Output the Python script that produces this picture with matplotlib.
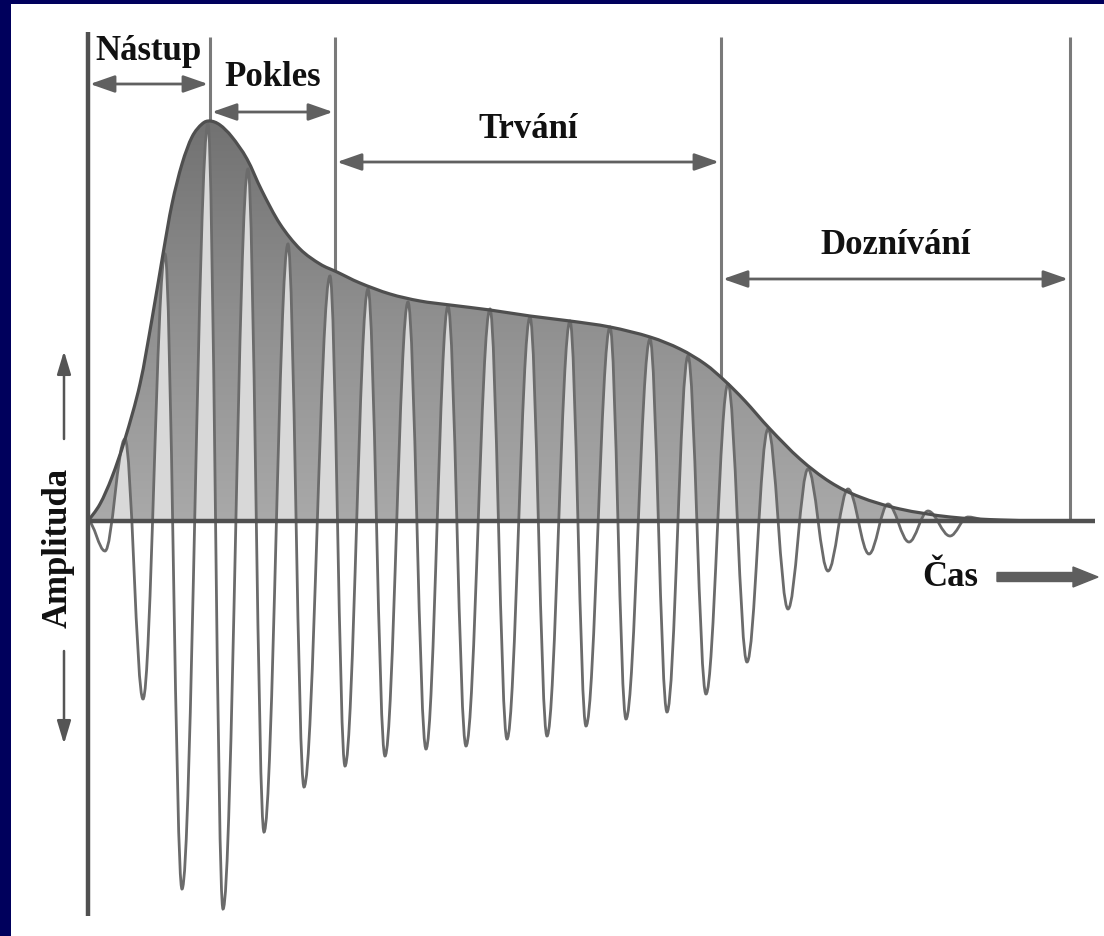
import numpy as np
import matplotlib
matplotlib.use("Agg")
import matplotlib.pyplot as plt
from matplotlib.path import Path
from matplotlib.patches import PathPatch
from matplotlib.colors import LinearSegmentedColormap

# ---------------- data (time in px from image, amplitude = 522 - y_px) -------------
BASE = 522
# oscillation extrema: time position and signed amplitude
wave_t = [88, 105, 125, 143, 165, 182, 208, 223, 248, 264, 288, 304, 330, 345,
          368, 385, 408, 426, 448, 466, 490, 507, 530, 547, 570, 586, 610, 626,
          650, 667, 688, 706, 728, 747, 768, 788, 808, 828, 848, 869, 888, 909,
          928, 950, 968, 990]
wave_a = [0, -30, 82, -178, 267, -368, 397, -388, 352, -311, 277, -266, 245, -245,
          232, -235, 219, -228, 215, -225, 212, -218, 204, -215, 200, -205, 194, -198,
          182, -191, 165, -173, 137, -141, 92, -88, 52, -50, 32, -33, 17, -21,
          10, -15, 4, 0]

# envelope knots
env_t = [88, 100, 112, 125, 140, 152, 163, 172, 182, 192, 202, 210, 220, 232,
         247, 262, 280, 300, 320, 337, 360, 390, 420, 450, 490, 530, 570, 610,
         650, 680, 705, 725, 745, 770, 800, 830, 860, 900, 950, 1000, 1040]
env_a = [0, 17, 44, 82, 137, 202, 267, 317, 357, 384, 397, 400, 396, 384,
         362, 330, 297, 272, 257, 249, 238, 227, 220, 216, 211, 205, 200, 194,
         184, 172, 157, 140, 120, 92, 62, 39, 24, 12, 4, 1, 0]

# phase boundaries and labels
bounds = [88, 210, 335, 721, 1070]
phase_labels = ["Nástup", "Pokles", "Trvání", "Doznívání"]
x_label = "Čas"
y_label = "Amplituda"

# ---------------- figure ----------------
W, H = 1104, 937
fig = plt.figure(figsize=(W / 100, H / 100), dpi=100, facecolor="#00005c")
left, top = 11, 5
ax = fig.add_axes([left / W, 0, (W - left) / W, (H - top) / H])
ax.set_facecolor("white")
ax.set_xlim(left, W)
ax.set_ylim(BASE - H, BASE - top)
for s in ax.spines.values():
    s.set_visible(False)
ax.set_xticks([]); ax.set_yticks([])


def ypx(y):
    return BASE - y


def smooth_path(xs, ys):
    pts = np.column_stack([xs, ys]).astype(float)
    verts = [tuple(pts[0])]
    codes = [Path.MOVETO]
    n = len(pts)
    for i in range(n - 1):
        p0 = pts[i - 1] if i > 0 else pts[i]
        p1 = pts[i]
        p2 = pts[i + 1]
        p3 = pts[i + 2] if i + 2 < n else pts[i + 1]
        c1 = p1 + (p2 - p0) / 6.0
        c2 = p2 - (p3 - p1) / 6.0
        verts += [tuple(c1), tuple(c2), tuple(p2)]
        codes += [Path.CURVE4] * 3
    return verts, codes


def wave_path(xs, ys, k=0.36):
    verts = [(xs[0], ys[0])]
    codes = [Path.MOVETO]
    for i in range(len(xs) - 1):
        x0, y0, x1, y1 = xs[i], ys[i], xs[i + 1], ys[i + 1]
        dx = x1 - x0
        verts += [(x0 + k * dx, y0), (x1 - k * dx, y1), (x1, y1)]
        codes += [Path.CURVE4] * 3
    return verts, codes


LINE = "#6b6b6b"

# vertical phase lines (drawn behind envelope fill)
for b in bounds[1:]:
    ax.plot([b, b], [ypx(38), 0], color="#7a7a7a", lw=2.2, zorder=1,
            solid_capstyle="butt")

# envelope fill with gradient
ev, ec = smooth_path(env_t, env_a)
env_closed = Path(ev + [(env_t[-1], 0), (env_t[0], 0), (env_t[0], 0)],
                  ec + [Path.LINETO, Path.LINETO, Path.CLOSEPOLY])
env_patch = PathPatch(env_closed, facecolor="none", edgecolor="none")
ax.add_patch(env_patch)
grad = np.linspace(0, 1, 256).reshape(-1, 1)
cmap = LinearSegmentedColormap.from_list("g", ["#a9a9a9", "#8f8f8f", "#707070"])
im = ax.imshow(grad, extent=[88, 1040, 0, 410], origin="lower", cmap=cmap,
               aspect="auto", zorder=2, interpolation="bilinear")
im.set_clip_path(env_patch)

# light interior of positive lobes
wv, wc = wave_path(wave_t, wave_a)
wave_closed = Path(wv + [(wave_t[-1], 0), (wave_t[0], 0), (wave_t[0], 0)],
                   wc + [Path.LINETO, Path.LINETO, Path.CLOSEPOLY])
lobe = PathPatch(wave_closed, facecolor="#d8d8d8", edgecolor="none", zorder=3)
ax.add_patch(lobe)
lobe.set_clip_path(env_patch)

# oscillation line
ax.add_patch(PathPatch(Path(wv, wc), facecolor="none", edgecolor=LINE, lw=2.0,
                       zorder=4))
# envelope line
ax.add_patch(PathPatch(Path(ev, ec), facecolor="none", edgecolor="#4f4f4f",
                       lw=2.3, zorder=5))

# axes lines
ax.plot([88, 88], [ypx(33), ypx(917)], color="#505050", lw=3.2, zorder=6,
        solid_capstyle="butt")
ax.plot([88, 1095], [0, 0], color="#505050", lw=3.2, zorder=6,
        solid_capstyle="butt")

# phase arrows and labels
arrow_y = [85, 113, 163, 280]
label_y = [51, 78, 129, 246]
font = dict(family="Liberation Serif", weight="bold", color="#111111")
for i, lab in enumerate(phase_labels):
    x0, x1 = bounds[i], bounds[i + 1]
    ax.annotate("", xy=(x1 - 2, ypx(arrow_y[i])), xytext=(x0 + 2, ypx(arrow_y[i])),
                arrowprops=dict(arrowstyle="<|-|>,head_length=1.0,head_width=0.35",
                                mutation_scale=15, color="#606060", lw=2.0,
                                shrinkA=0, shrinkB=0), zorder=7)
    ax.text((x0 + x1) / 2, ypx(label_y[i]), lab,
            ha="center", va="center", fontsize=25, zorder=8, **font)

# amplitude label and arrows
ax.text(58, ypx(548), y_label, rotation=90, ha="center", va="center",
        fontsize=25, zorder=8, **font)
for ya, yb in [(440, 352), (652, 745)]:
    ax.annotate("", xy=(64, ypx(yb)), xytext=(64, ypx(ya)),
                arrowprops=dict(arrowstyle="-|>,head_length=1.0,head_width=0.3",
                                mutation_scale=14, color="#555555", lw=1.8,
                                shrinkA=0, shrinkB=0), zorder=7)

# time label and arrow
ax.text(950, ypx(577), x_label, ha="center", va="center", fontsize=25,
        zorder=8, **font)
ax.arrow(997, ypx(578), 101, 0, width=9, head_width=20, head_length=25,
         length_includes_head=True, color="#5e5e5e", zorder=7)

fig.savefig("out.png", dpi=100, facecolor=fig.get_facecolor())
